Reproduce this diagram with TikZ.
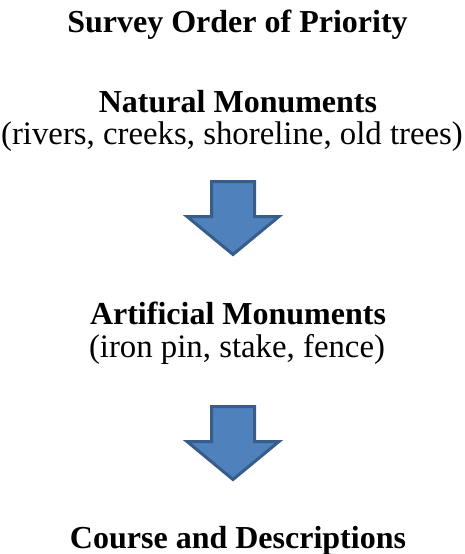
\documentclass[tikz,border=0pt]{standalone}
\usepackage{fontspec}
\setmainfont{Liberation Serif}
\definecolor{arrowfill}{HTML}{4F81BD}
\definecolor{arrowline}{HTML}{385D8A}
\tikzset{
  head/.style={font=\fontsize{32}{38}\selectfont\bfseries, anchor=base, inner sep=0pt},
  sub/.style={font=\fontsize{32.8}{38}\selectfont, anchor=base, inner sep=0pt},
  blockarrow/.pic={
    \path[fill=arrowfill, draw=arrowline, line width=3pt, line join=miter]
      (-21.5,0) -- (21.5,0) -- (21.5,35) -- (46,35) -- (0,73) -- (-46,35) -- (-21.5,35) -- cycle;
  }
}
\begin{document}
\begin{tikzpicture}[x=1pt,y=-1pt]
\useasboundingbox (0,0) rectangle (465,554);
\node[head] (title) at (237.5,32) {Survey Order of Priority};
\node[head] (nat) at (238,112) {Natural Monuments};
\node[sub] (natsub) at (232,144) {(rivers, creeks, shoreline, old trees)};
\pic at (233,181.5) {blockarrow};
\node[head] (art) at (238,324) {Artificial Monuments};
\node[sub] (artsub) at (237,357) {(iron pin, stake, fence)};
\pic at (233,406.5) {blockarrow};
\node[head] (course) at (238,548) {Course and Descriptions};
\end{tikzpicture}
\end{document}
